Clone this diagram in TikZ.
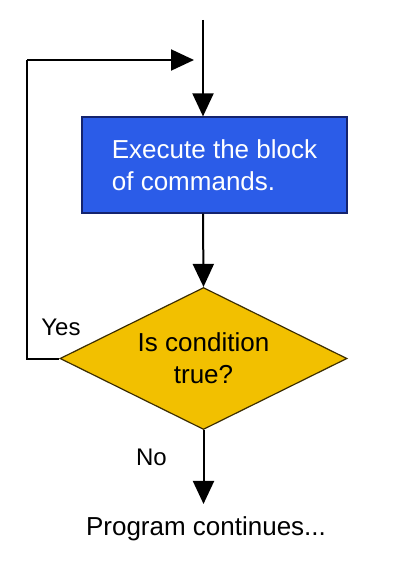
\documentclass[tikz,border=0pt]{standalone}
\usepackage{fontspec}
\setmainfont{Liberation Sans}
\usetikzlibrary{arrows.meta,shapes.geometric}
\definecolor{boxblue}{RGB}{43,92,232}
\definecolor{boxedge}{RGB}{20,35,110}
\definecolor{condgold}{RGB}{242,192,0}
\definecolor{condedge}{RGB}{60,45,0}
\tikzset{
  flow/.style={line width=2pt, draw=black, -{Triangle[length=23pt,width=21pt]}},
  wire/.style={line width=2pt, draw=black},
  txt/.style={font=\fontsize{24}{32}\selectfont},
  bigtxt/.style={font=\fontsize{26}{32}\selectfont},
  blockbox/.style={rectangle, fill=boxblue, draw=boxedge, line width=1.2pt,
    minimum width=265pt, minimum height=96pt, inner sep=0pt, align=left,
    text=white, bigtxt},
  condbox/.style={diamond, fill=condgold, draw=condedge, line width=1.2pt,
    minimum width=287pt, minimum height=142pt, inner sep=0pt, shape aspect=2,
    align=center, bigtxt},
  lbl/.style={inner sep=0pt, anchor=base, txt}
}
\begin{document}
\begin{tikzpicture}[x=1pt,y=-1pt]
\useasboundingbox (0,0) rectangle (402,564);
\fill[white] (0,0) rectangle (402,564);
\coordinate (top) at (203,20);
\coordinate (lx) at (27,60);
\coordinate (loopend) at (194,60);
\node[blockbox] (blk) at (214.5,165) {Execute the block\\of commands.};
\node[condbox] (cond) at (203.5,358.5) {Is condition\\true?};
\node[lbl, bigtxt, inner ysep=12pt] (out) at (206,535) {Program continues...};
\node[lbl] (yes) at (61,335) {Yes};
\node[lbl] (no) at (151.5,465) {No};
\draw[flow] (top) -- (top |- blk.north);
\draw[flow] (top |- blk.south) -- (cond.north);
\draw[wire] (cond.west) -| (lx);
\draw[flow] (lx) -- (loopend);
\draw[flow] (cond.south) -- (cond.south |- out.north);
\end{tikzpicture}
\end{document}
